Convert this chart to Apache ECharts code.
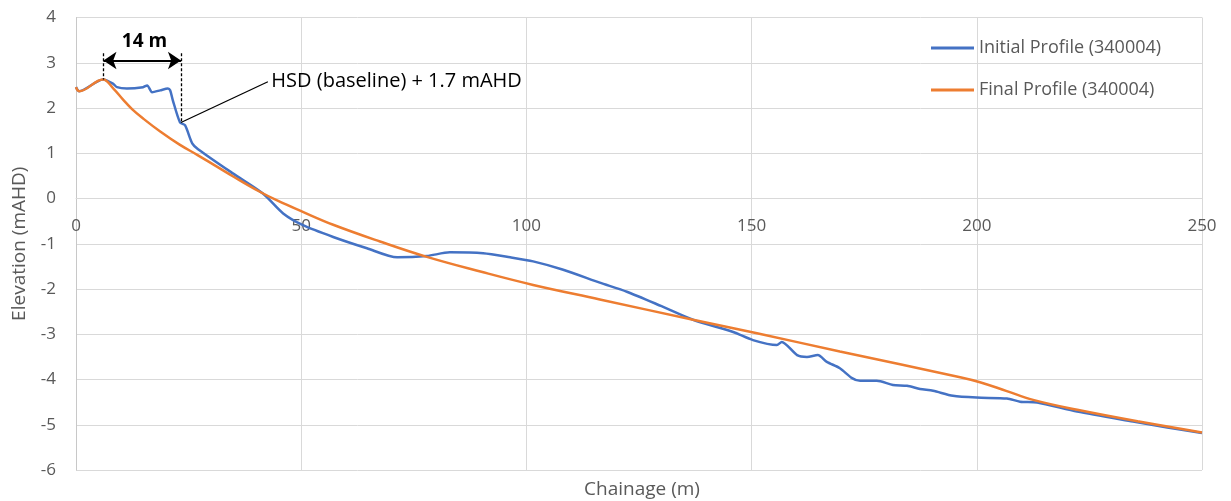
<!DOCTYPE html>
<html>
<head>
<meta charset="utf-8">
<script src="https://cdn.jsdelivr.net/npm/echarts@6/dist/echarts.min.js"></script>
<style>
  html, body { margin: 0; padding: 0; background: #ffffff; }
  #chart { width: 1231px; height: 501px; }
</style>
</head>
<body>
<div id="chart"></div>
<script>
// ---- Data ----
const initialChainage = [0, 0.7, 6.0, 8.2, 9.1, 11.3, 14.9, 15.8, 16.9, 18.7, 20.4, 20.9, 21.5, 23.1, 24.2, 25.8, 27.1, 34.9, 41.5, 46, 50.4, 57.1, 64.6, 71.3, 77.9, 83, 90.4, 96.4, 101.5, 108, 116.3, 122.3, 130, 137, 145.9, 150.3, 155.6, 156.7, 160.1, 162.3, 164.7, 166.7, 169.6, 172.3, 174.1, 177.8, 181.4, 184.5, 187.4, 190.3, 194.7, 200, 206.7, 209.6, 213.4, 222.3, 234.7, 242.3, 250];
const initialElevation = [2.46, 2.37, 2.63, 2.54, 2.46, 2.43, 2.46, 2.50, 2.35, 2.39, 2.43, 2.39, 2.17, 1.68, 1.62, 1.22, 1.09, 0.55, 0.11, -0.33, -0.59, -0.85, -1.10, -1.30, -1.27, -1.19, -1.21, -1.30, -1.39, -1.57, -1.86, -2.06, -2.38, -2.68, -2.95, -3.13, -3.24, -3.17, -3.46, -3.50, -3.46, -3.61, -3.75, -3.97, -4.03, -4.03, -4.12, -4.14, -4.21, -4.25, -4.36, -4.40, -4.42, -4.49, -4.51, -4.71, -4.93, -5.06, -5.18];

const finalChainage = [0, 0.7, 6.0, 8.3, 10.5, 12.5, 15, 18.7, 23, 27, 31, 35, 40.6, 45, 50, 57.1, 67.5, 77.9, 90, 101.5, 116.3, 137, 151.2, 169.6, 196.3, 200.7, 206.5, 212.5, 222.3, 236, 250];
const finalElevation = [2.46, 2.37, 2.63, 2.43, 2.18, 1.97, 1.76, 1.48, 1.19, 0.96, 0.72, 0.48, 0.16, -0.06, -0.28, -0.58, -0.95, -1.29, -1.62, -1.91, -2.23, -2.68, -2.98, -3.38, -3.95, -4.06, -4.25, -4.45, -4.67, -4.93, -5.17];

const seriesNames = ['Initial Profile (340004)', 'Final Profile (340004)'];
const xTicks = [0, 50, 100, 150, 200, 250];
const yTicks = [-6, -5, -4, -3, -2, -1, 0, 1, 2, 3, 4];

// annotation anchors (data coordinates)
const baselineStart = [6.1, 2.63];
const baselineEnd = [23.3, 1.68];
const arrowY = 3.05;
const dashTopY = 3.21;
const widthLabel = '14 m';
const widthLabelPos = [15.2, 3.46];
const hsdLabel = 'HSD (baseline) + 1.7 mAHD';
const hsdLeaderEnd = [42.6, 2.58];

const zip = (xs, ys) => xs.map((x, i) => [x, ys[i]]);

const font = '"Open Sans", Lato, sans-serif';
const gridColor = '#d9d9d9';
const textColor = '#595959';

const chart = echarts.init(document.getElementById('chart'), null, { renderer: 'canvas' });

// grid geometry
const gridTop = 17.5, gridBottom = 31, chartH = 501;
const plotH = chartH - gridTop - gridBottom;
const zeroFromBottom = plotH * (0 - yTicks[0]) / (yTicks[yTicks.length - 1] - yTicks[0]);

chart.setOption({
  animation: false,
  backgroundColor: '#ffffff',
  textStyle: { fontFamily: font },
  grid: { left: 76, right: 29, top: gridTop, bottom: gridBottom, containLabel: false },
  legend: {
    data: seriesNames.map(n => ({ name: n, icon: 'rect' })),
    orient: 'vertical',
    left: 926,
    top: 34,
    itemWidth: 43,
    itemHeight: 3,
    itemGap: 24,
    textStyle: { fontFamily: font, fontSize: 18, color: textColor }
  },
  xAxis: {
    type: 'value',
    min: xTicks[0],
    max: xTicks[xTicks.length - 1],
    interval: 50,
    offset: -zeroFromBottom,
    axisLine: { show: true, onZero: false, lineStyle: { color: gridColor, width: 1 } },
    axisTick: { show: false },
    axisLabel: { margin: 19, fontSize: 17, color: textColor, fontFamily: font },
    splitLine: { show: true, lineStyle: { color: gridColor, width: 1 } }
  },
  yAxis: {
    type: 'value',
    min: yTicks[0],
    max: yTicks[yTicks.length - 1],
    interval: 1,
    name: 'Elevation (mAHD)',
    nameLocation: 'middle',
    nameGap: 47,
    nameTextStyle: { fontSize: 19, color: textColor, fontFamily: font },
    axisLine: { show: true, onZero: false, lineStyle: { color: '#c8c8c8', width: 1 } },
    axisTick: { show: false },
    axisLabel: { margin: 20, fontSize: 17, color: textColor, fontFamily: font },
    splitLine: { show: true, lineStyle: { color: gridColor, width: 1 } }
  },
  graphic: [{
    type: 'text',
    style: {
      x: 642, y: 490, text: 'Chainage (m)', textAlign: 'center', textVerticalAlign: 'middle',
      fontSize: 19, fill: textColor, fontFamily: font
    }
  }],
  series: [
    {
      name: seriesNames[0],
      type: 'line',
      data: zip(initialChainage, initialElevation),
      symbol: 'none',
      smooth: 0.25,
      lineStyle: { color: '#4472C4', width: 2.5 },
      itemStyle: { color: '#4472C4' },
      z: 2
    },
    {
      name: seriesNames[1],
      type: 'line',
      data: zip(finalChainage, finalElevation),
      symbol: 'none',
      smooth: 0.4,
      lineStyle: { color: '#ED7D31', width: 2.5 },
      itemStyle: { color: '#ED7D31' },
      z: 3
    },
    {
      name: 'annotations',
      type: 'line',
      data: [],
      z: 5,
      markLine: {
        silent: true,
        animation: false,
        symbol: ['none', 'none'],
        label: { show: false },
        lineStyle: { color: '#000000', width: 1.3, type: [3, 2] },
        emphasis: { disabled: true },
        data: [
          [{ coord: [baselineStart[0], dashTopY] }, { coord: baselineStart }],
          [{ coord: [baselineEnd[0], dashTopY] }, { coord: baselineEnd }],
          [
            { coord: [baselineStart[0], arrowY], symbol: 'arrow', symbolSize: 13, lineStyle: { type: 'solid', width: 2.2 } },
            { coord: [baselineEnd[0], arrowY], symbol: 'arrow', symbolSize: 13 }
          ],
          [
            { coord: baselineEnd, lineStyle: { type: 'solid', width: 1.3 } },
            { coord: hsdLeaderEnd }
          ]
        ]
      },
      markPoint: {
        silent: true,
        animation: false,
        symbol: 'circle',
        symbolSize: 1,
        itemStyle: { color: 'rgba(0,0,0,0)' },
        data: [
          {
            coord: widthLabelPos,
            label: { show: true, position: 'inside', formatter: widthLabel, fontSize: 19, fontWeight: 'bold', color: '#000000', fontFamily: font }
          },
          {
            coord: [hsdLeaderEnd[0], hsdLeaderEnd[1]],
            label: { show: true, position: 'right', distance: 3, formatter: hsdLabel, fontSize: 20, color: '#000000', fontFamily: font }
          }
        ]
      }
    }
  ]
});
</script>
</body>
</html>
